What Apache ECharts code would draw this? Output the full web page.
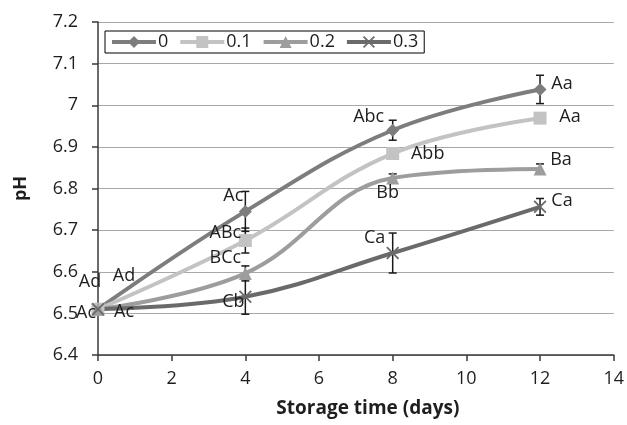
<!DOCTYPE html>
<html>
<head>
<meta charset="utf-8">
<script src="https://cdn.jsdelivr.net/npm/echarts@6/dist/echarts.min.js"></script>
<style>
  html, body { margin: 0; padding: 0; background: #fff; }
  #chart { width: 627px; height: 425px; }
</style>
</head>
<body>
<div id="chart"></div>
<script>
// storage time (days)
const days = [0, 4, 8, 12]
const seriesNames = ['0', '0.1', '0.2', '0.3']

// pH values per concentration
const ph0 = [6.51, 6.745, 6.94, 7.038]
const ph1 = [6.51, 6.675, 6.884, 6.969]
const ph2 = [6.51, 6.596, 6.825, 6.847]
const ph3 = [6.51, 6.540, 6.645, 6.756]

// error bar half-widths
const err0 = [0, 0.048, 0.024, 0.034]
const err1 = [0, 0.03, 0.005, 0.005]
const err2 = [0, 0.018, 0.01, 0.012]
const err3 = [0, 0.042, 0.048, 0.02]

// significance letters
const lab0 = ['Ad', 'Ac', 'Abc', 'Aa']
const lab1 = ['Ad', 'ABc', 'Abb', 'Aa']
const lab2 = ['Ac', 'BCc', 'Bb', 'Ba']
const lab3 = ['Ac', 'Cb', 'Ca', 'Ca']

const xTicks = { min: 0, max: 14, interval: 2 }
const yTicks = { min: 6.4, max: 7.2, interval: 0.1 }

const FONT = 'Open Sans'
const TXT = '#1e1e1e'
const FS = 18

// label offsets from marker centre (style only)
const labelOffsets = [
  [[-8, -27], [-12, -16], [-24, -13], [22, -6]],
  [[26, -33], [-20, -8], [35, 0], [30, -1]],
  [[-12, 4], [-20, -16], [-5, 15], [21, -9]],
  [[26, 3], [-12, 5], [-18, -15], [22, -6]],
]

const colors = ['#7d7d7d', '#c3c3c3', '#9d9d9d', '#6a6a6a']
const xMark = 'path://M0,1L1,0L5,4L9,0L10,1L6,5L10,9L9,10L5,6L1,10L0,9L4,5Z'
const symbols = ['diamond', 'rect', 'triangle', xMark]
const symbolSizes = [13, 13, 13, 13]

const values = [ph0, ph1, ph2, ph3]
const errors = [err0, err1, err2, err3]
const labels = [lab0, lab1, lab2, lab3]

const chart = echarts.init(document.getElementById('chart'))

const lineSeries = values.map((vals, s) => ({
  name: seriesNames[s],
  type: 'line',
  smooth: 0.4,
  z: 3,
  symbol: symbols[s],
  symbolSize: symbolSizes[s],
  lineStyle: { color: colors[s], width: 4 },
  itemStyle: { color: colors[s] },
  data: days.map((d, i) => ({
    value: [d, vals[i]],
    label: {
      show: true,
      position: 'inside',
      offset: labelOffsets[s][i],
      formatter: labels[s][i],
      color: TXT,
      fontFamily: FONT,
      fontSize: FS,
    },
  })),
}))

const errSeries = values.map((vals, s) => ({
  type: 'custom',
  z: 2,
  silent: true,
  data: days.map((d, i) => [d, vals[i] - errors[s][i], vals[i] + errors[s][i]]),
  renderItem: function (params, api) {
    const lo = api.coord([api.value(0), api.value(1)])
    const hi = api.coord([api.value(0), api.value(2)])
    if (Math.abs(hi[1] - lo[1]) < 1) return
    const w = 4
    const st = { stroke: '#1a1a1a', lineWidth: 1.5 }
    return {
      type: 'group',
      children: [
        { type: 'line', shape: { x1: lo[0], y1: lo[1], x2: hi[0], y2: hi[1] }, style: st },
        { type: 'line', shape: { x1: lo[0] - w, y1: lo[1], x2: lo[0] + w, y2: lo[1] }, style: st },
        { type: 'line', shape: { x1: hi[0] - w, y1: hi[1], x2: hi[0] + w, y2: hi[1] }, style: st },
      ],
    }
  },
}))

const option = {
  backgroundColor: '#fff',
  animation: false,
  textStyle: { fontFamily: FONT },
  grid: { left: 98, right: 10, top: 22, bottom: 70 },
  legend: {
    data: seriesNames,
    left: 105,
    top: 31,
    padding: [2, 6, 2, 5],
    itemGap: 10,
    itemWidth: 44,
    itemHeight: 15,
    lineStyle: { width: 4 },
    borderColor: '#000',
    borderWidth: 1,
    backgroundColor: '#fff',
    textStyle: { fontFamily: FONT, fontSize: FS, color: TXT, padding: [0, 0, 0, -3] },
  },
  xAxis: {
    type: 'value',
    min: xTicks.min,
    max: xTicks.max,
    interval: xTicks.interval,
    name: 'Storage time (days)',
    nameLocation: 'middle',
    nameGap: 44,
    nameTextStyle: { fontFamily: FONT, fontSize: 19, fontWeight: 'bold', color: TXT, padding: [0, 0, 0, 24] },
    axisLine: { lineStyle: { color: '#3a3a3a', width: 1.5 } },
    axisTick: { show: true, length: 6, lineStyle: { color: '#3a3a3a', width: 1.5 } },
    axisLabel: { fontFamily: FONT, fontSize: FS, color: TXT, margin: 15 },
    splitLine: { show: false },
  },
  yAxis: {
    type: 'value',
    min: yTicks.min,
    max: yTicks.max,
    interval: yTicks.interval,
    name: 'pH',
    nameLocation: 'middle',
    nameGap: 68,
    nameRotate: 90,
    nameTextStyle: { fontFamily: FONT, fontSize: 18, fontWeight: 'bold', color: TXT },
    axisLine: { show: true, lineStyle: { color: '#3a3a3a', width: 1.5 } },
    axisTick: { show: true, length: 6, lineStyle: { color: '#3a3a3a', width: 1.5 } },
    axisLabel: {
      fontFamily: FONT,
      fontSize: FS,
      color: TXT,
      margin: 20,
      formatter: (v) => String(Math.round(v * 10) / 10),
    },
    splitLine: { show: true, lineStyle: { color: '#a8a8a8', width: 1.2 } },
  },
  series: lineSeries.concat(errSeries),
}

chart.setOption(option)
</script>
</body>
</html>
